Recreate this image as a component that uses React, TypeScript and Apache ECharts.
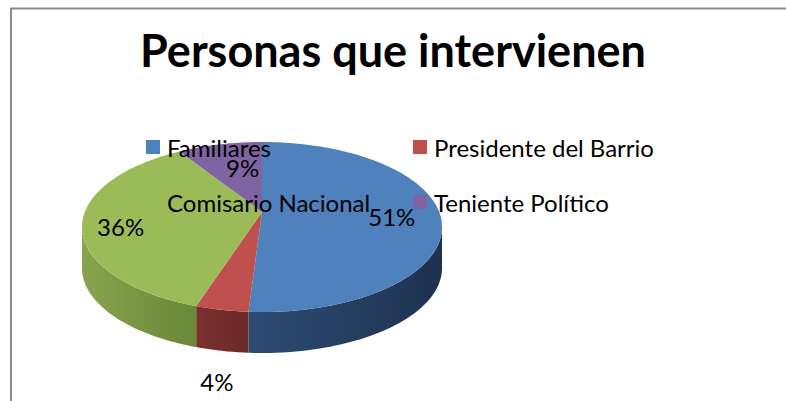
import React, { useEffect, useRef } from "react";
import * as echarts from "echarts";

// ---- data ----
const titleText = "Personas que intervienen";
const categories = ["Familiares", "Presidente del Barrio", "Comisario Nacional", "Teniente Político"];
const values = [51, 4, 36, 9];
const legendColumn1 = ["Familiares", "Comisario Nacional"];
const legendColumn2 = ["Presidente del Barrio", "Teniente Político"];

// ---- style / layout ----
const topColors = ["#4F81BD", "#C0504D", "#9BBB59", "#8064A2"];
const sideColors = [
  ["#2D4C72", "#1E3250"],
  ["#7A302E", "#6C2A29"],
  ["#87A44D", "#6A8639"],
  ["#5E4A7A", "#4A3A62"],
];
const labelRadius = [0.73, 1.1, 0.79, 0.42];
const labelShift = [3, 60, 6, -13];
const FONT = "Lato, 'Open Sans', sans-serif";

// pie geometry (perspective projection of a tilted disc)
const CX = 262;
const CY = 212;
const AX = 177.2;
const BZ = 82.35;
const K = 0.1765;
const DEPTH = 41;
const SIL = (Math.acos(-K) * 180) / Math.PI; // silhouette angle
const VIS0 = SIL;
const VIS1 = 360 - SIL;

function proj(phiDeg: number, r: number): [number, number] {
  const p = (phiDeg * Math.PI) / 180;
  const X = r * Math.sin(p);
  const Z = -r * Math.cos(p);
  const w = 1 - K * Z;
  return [CX + (AX * X) / w, CY + (BZ * Z) / w];
}

const total = values.reduce((a, b) => a + b, 0);
const starts: number[] = [];
{
  let acc = 0;
  values.forEach((v) => {
    starts.push(acc / total);
    acc += v;
  });
}

function makeRenderItem(i: number) {
  return (_params: any, api: any) => {
    const s = api.value(0) * 360;
    const e = api.value(1) * 360;
    const children: any[] = [];
    // outer side wall
    const vs = Math.max(s, VIS0);
    const ve = Math.min(e, VIS1);
    if (ve > vs) {
      const m = Math.max(6, Math.ceil((ve - vs) / 1.5));
      const upper: number[][] = [];
      const lower: number[][] = [];
      for (let j = 0; j <= m; j++) {
        const pt = proj(vs + ((ve - vs) * j) / m, 1);
        upper.push(pt);
        lower.push([pt[0], pt[1] + DEPTH]);
      }
      children.push({
        type: "polygon",
        z2: 1,
        shape: { points: upper.concat(lower.reverse()) },
        style: {
          fill: new echarts.graphic.LinearGradient(0, 0, 1, 0, [
            { offset: 0, color: sideColors[i][0] },
            { offset: 1, color: sideColors[i][1] },
          ]),
        },
      });
    }
    // top face
    const n = Math.max(6, Math.ceil((e - s) / 1.5));
    const top: number[][] = [[CX, CY]];
    for (let j = 0; j <= n; j++) top.push(proj(s + ((e - s) * j) / n, 1));
    children.push({
      type: "polygon",
      z2: 10,
      shape: { points: top },
      style: { fill: topColors[i] },
    });
    // percentage label
    const mid = (s + e) / 2;
    const lp = proj(mid, labelRadius[i]);
    const pct = Math.round(((e - s) / 360) * 100) + "%";
    children.push({
      type: "text",
      z2: 30,
      style: {
        text: pct,
        x: lp[0],
        y: lp[1] + labelShift[i],
        fill: "#000",
        fontSize: 24,
        fontFamily: FONT,
        align: "center",
        verticalAlign: "middle",
      },
    });
    return { type: "group", children };
  };
}

export default function App() {
  const ref = useRef<HTMLDivElement>(null);
  useEffect(() => {
    if (!ref.current) return;
    const chart = echarts.init(ref.current, null, { renderer: "svg" });
    const legendBase = {
      orient: "vertical",
      padding: 0,
      itemWidth: 14,
      itemHeight: 14,
      itemGap: 27,
      icon: "rect",
      selectedMode: false,
      textStyle: { fontSize: 24, fontFamily: FONT, color: "#000", lineHeight: 28, padding: [0, 0, 0, 2] },
    };
    chart.setOption({
      animation: false,
      backgroundColor: "#fff",
      title: {
        text: titleText,
        left: "center",
        top: 22,
        textStyle: { fontSize: 45, fontWeight: "bold", fontFamily: FONT, color: "#000" },
      },
      legend: [
        { ...legendBase, left: 146, top: 133, data: legendColumn1 },
        { ...legendBase, left: 413, top: 133, data: legendColumn2 },
      ],
      graphic: [
        {
          type: "rect",
          silent: true,
          z: -10,
          shape: { x: 11, y: 8.5, width: 820, height: 430 },
          style: { fill: "none", stroke: "#8a8a8a", lineWidth: 2 },
        },
      ],
      series: categories.map((name, i) => ({
        type: "custom",
        name,
        coordinateSystem: "none",
        silent: true,
        itemStyle: { color: topColors[i] },
        renderItem: makeRenderItem(i),
        data: [[starts[i], starts[i] + values[i] / total]],
      })),
    });
    return () => chart.dispose();
  }, []);
  return (
    <div
      ref={ref}
      style={{ position: "fixed", left: 0, top: 0, width: 786, height: 401 }}
    />
  );
}
